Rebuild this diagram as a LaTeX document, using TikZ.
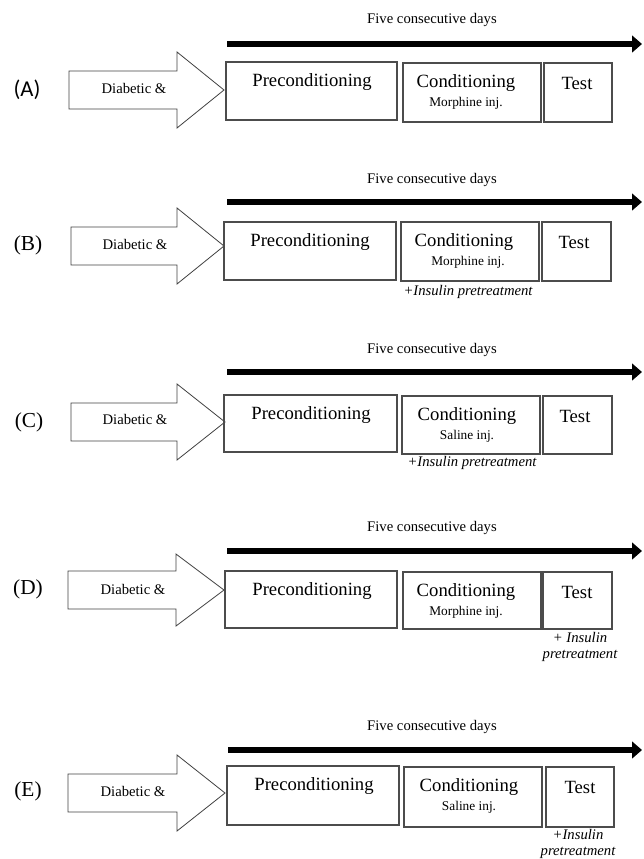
\documentclass[tikz,border=0pt]{standalone}
\usepackage{fontspec}
\setmainfont{Liberation Serif}
\newfontfamily\calibri{Carlito}
\usepackage{tikz}
\usetikzlibrary{arrows.meta, positioning}

\begin{document}
\begin{tikzpicture}[x=0.75pt, y=-0.75pt,
    lab/.style={inner sep=0pt, font=\fontsize{16}{18}\selectfont},
    dia/.style={inner sep=0pt, font=\fontsize{11}{13}\selectfont},
    days/.style={inner sep=0pt, font=\fontsize{11}{13}\selectfont},
    stage/.style={inner sep=0pt, font=\fontsize{14}{16}\selectfont},
    inj/.style={inner sep=0pt, font=\fontsize{10}{12}\selectfont},
    note/.style={inner sep=0pt, align=center, font=\itshape\fontsize{11}{12.5}\selectfont},
    box/.style={draw=black!70, line width=0.8pt},
    fat/.style={draw=black!75, line width=0.6pt},
    timeline/.style={line width=3.8pt, -{Triangle[length=7.5pt, width=12.5pt]}}]
    \useasboundingbox (0,0) rectangle (643,859);

    % (A)
    \node[lab, font=\calibri\fontsize{17}{19}\selectfont] (labA) at (27,90) {(A)};
    \draw[fat] (69,71) -- ++(108,0) -- ++(0,-19) -- ++(47,38) -- ++(-47,38) -- ++(0,-19) -- ++(-108,0) -- cycle;
    \node[dia] (diaA) at (134,88) {Diabetic \&};
    \node[days] (fiveA) at (432,20) {Five consecutive days};
    \coordinate (sA) at (227,44);
    \coordinate (eA) at (642,44);
    \draw[timeline] (sA) -- (eA);
    \draw[box] (226,62) rectangle (397,120);
    \draw[box] (403,63) rectangle (541,122);
    \draw[box] (544,63) rectangle (612,122);
    \node[stage] (preA) at (312,82) {Preconditioning};
    \node[stage] (conA) at (466,83) {Conditioning};
    \node[inj] (injA) at (466,103) {Morphine inj.};
    \node[stage] (testA) at (577,83) {Test};

    % (B)
    \node[lab] (labB) at (28,245) {(B)};
    \draw[fat] (71,227) -- ++(106,0) -- ++(0,-19) -- ++(47,38) -- ++(-47,38) -- ++(0,-19) -- ++(-106,0) -- cycle;
    \node[dia] (diaB) at (135,244) {Diabetic \&};
    \node[days] (fiveB) at (432,180) {Five consecutive days};
    \coordinate (sB) at (227,202);
    \coordinate (eB) at (642,202);
    \draw[timeline] (sB) -- (eB);
    \draw[box] (224,222) rectangle (396,280);
    \draw[box] (401,222) rectangle (539,281);
    \draw[box] (542,222) rectangle (611,281);
    \node[stage] (preB) at (310,242) {Preconditioning};
    \node[stage] (conB) at (464,242) {Conditioning};
    \node[inj] (injB) at (468,262) {Morphine inj.};
    \node[stage] (testB) at (574,242) {Test};
    \node[note] (insB) at (468,292) {+Insulin pretreatment};

    % (C)
    \node[lab] (labC) at (29,422) {(C)};
    \draw[fat] (71,403) -- ++(106,0) -- ++(0,-19) -- ++(48,38) -- ++(-48,38) -- ++(0,-19) -- ++(-106,0) -- cycle;
    \node[dia] (diaC) at (135,419) {Diabetic \&};
    \node[days] (fiveC) at (432,350) {Five consecutive days};
    \coordinate (sC) at (227,372);
    \coordinate (eC) at (642,372);
    \draw[timeline] (sC) -- (eC);
    \draw[box] (224,395) rectangle (397,452);
    \draw[box] (402,396) rectangle (540,454);
    \draw[box] (543,396) rectangle (612,454);
    \node[stage] (preC) at (311,415) {Preconditioning};
    \node[stage] (conC) at (467,416) {Conditioning};
    \node[inj] (injC) at (467,436) {Saline inj.};
    \node[stage] (testC) at (575,416) {Test};
    \node[note] (insC) at (472,463) {+Insulin pretreatment};

    % (D)
    \node[lab] (labD) at (28,589) {(D)};
    \draw[fat] (68,571) -- ++(108,0) -- ++(0,-17) -- ++(48,36) -- ++(-48,36) -- ++(0,-17) -- ++(-108,0) -- cycle;
    \node[dia] (diaD) at (133,589) {Diabetic \&};
    \node[days] (fiveD) at (432,528) {Five consecutive days};
    \coordinate (sD) at (227,551);
    \coordinate (eD) at (642,551);
    \draw[timeline] (sD) -- (eD);
    \draw[box] (225,571) rectangle (397,628);
    \draw[box] (403,572) rectangle (541,629);
    \draw[box] (543,572) rectangle (612,629);
    \node[stage] (preD) at (312,591) {Preconditioning};
    \node[stage] (conD) at (466,592) {Conditioning};
    \node[inj] (injD) at (466,612) {Morphine inj.};
    \node[stage] (testD) at (577,592) {Test};
    \node[note] (insD) at (580,647) {+ Insulin\\pretreatment};

    % (E)
    \node[lab] (labE) at (28,791) {(E)};
    \draw[fat] (68,774) -- ++(109,0) -- ++(0,-19) -- ++(48,38) -- ++(-48,38) -- ++(0,-19) -- ++(-109,0) -- cycle;
    \node[dia] (diaE) at (133,791) {Diabetic \&};
    \node[days] (fiveE) at (432,727) {Five consecutive days};
    \coordinate (sE) at (228,750);
    \coordinate (eE) at (642,750);
    \draw[timeline] (sE) -- (eE);
    \draw[box] (227,766) rectangle (399,825);
    \draw[box] (404,767) rectangle (542,827);
    \draw[box] (546,767) rectangle (614,827);
    \node[stage] (preE) at (314,786) {Preconditioning};
    \node[stage] (conE) at (469,787) {Conditioning};
    \node[inj] (injE) at (469,807) {Saline inj.};
    \node[stage] (testE) at (580,787) {Test};
    \node[note] (insE) at (578,844) {+Insulin\\pretreatment};
\end{tikzpicture}
\end{document}
